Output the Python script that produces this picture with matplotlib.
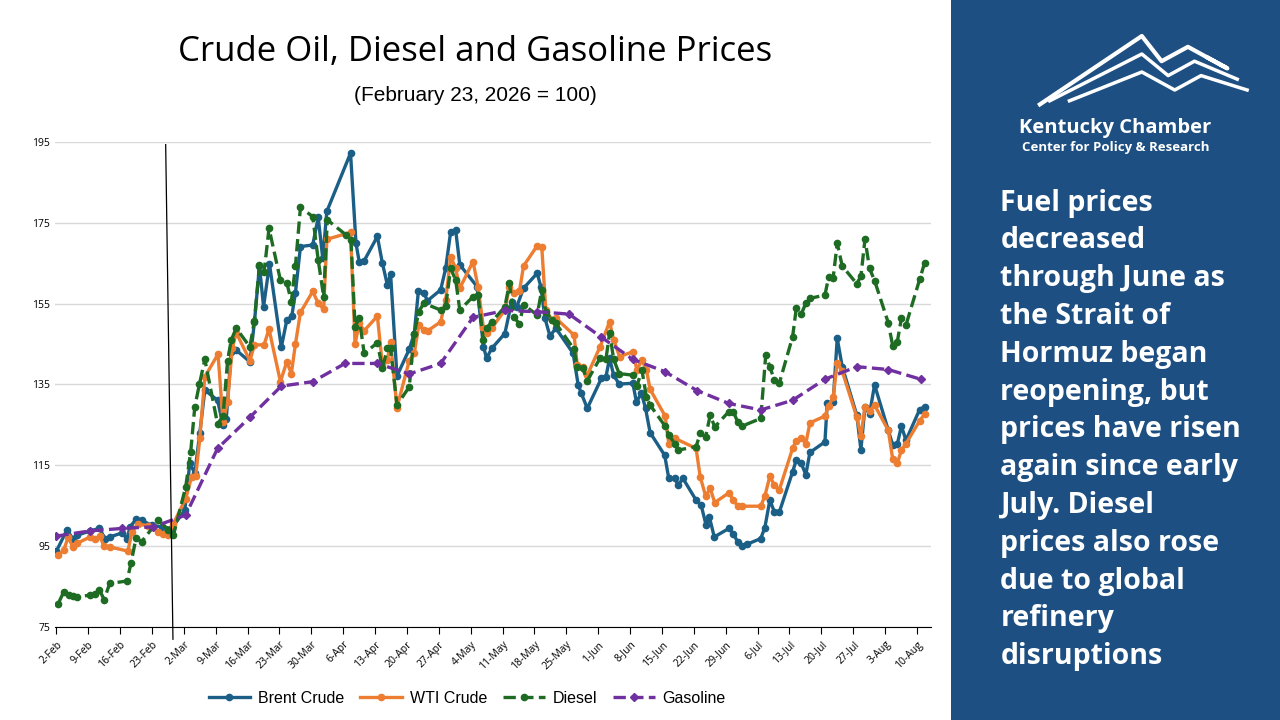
import matplotlib.pyplot as plt
import matplotlib.dates as mdates
from datetime import datetime, timedelta
import numpy as np

START = datetime(2026, 2, 2)

# days after 2-Feb, index value (February 23, 2026 = 100)
BRENT = {
	"day": [0, 2.3, 3.6, 4.5, 7.4, 9.4, 10.7, 11.8, 14.4, 15.5, 16.2, 17.5, 18.7, 20.9, 23.1, 25.3, 28.2, 29.3, 30.4, 31.5,
		32.6, 35.4, 36.6, 37.3, 38.4, 39.5, 42.5, 43.5, 44.6, 45.5, 46.8, 49.4, 50.6, 51.7, 52.5, 53.6, 56.3, 57.5, 58.5, 59.4,
		64.6, 65.8, 66.5, 67.6, 70.5, 71.6, 72.7, 73.4, 74.8, 77.5, 78.6, 79.5, 80.7, 81.5, 84.4, 85.5, 86.6, 87.7, 88.6, 92.4,
		93.8, 94.5, 95.6, 98.5, 100, 101.1, 102.6, 105.6, 106.4, 107.3, 108.4, 109.7, 113.5, 114.6, 115.3, 116.6, 119.7, 120.7,
		121.5, 122.4, 123.6, 126.6, 127.4, 128.5, 129.4, 130.4, 133.6, 134.5, 135.8, 136.6, 137.6, 140.5, 141.6, 142.7, 143.4,
		144.5, 147.7, 148.7, 149.6, 150.6, 151.7, 154.7, 155.6, 156.7, 157.7, 158.8, 161.7, 162.5, 163.6, 164.6, 165.5, 168.8,
		169.3, 170.6, 171.5, 172.6, 175.8, 176.7, 177.6, 178.6, 179.7, 182.7, 183.7, 184.7, 185.6, 186.6, 189.6, 190.7],
	"value": [93.8, 99.0, 96.9, 97.7, 98.8, 99.4, 96.9, 97.3, 98.3, 96.9, 99.8, 101.7, 101.4, 100.2, 99.8, 99.4, 103.9, 115.6, 113.0, 123.1,
		133.6, 131.1, 124.9, 126.4, 143.1, 143.5, 140.6, 150.5, 164.3, 154.2, 164.8, 144.2, 150.9, 151.9, 157.7, 169.1, 169.5, 176.3, 166.2, 177.8,
		192.2, 169.9, 165.4, 165.6, 171.6, 165.0, 159.6, 162.3, 137.1, 143.7, 147.6, 158.0, 157.7, 155.7, 158.4, 163.7, 172.8, 173.1, 164.6, 159.2,
		144.3, 141.5, 143.9, 147.6, 155.5, 154.2, 158.8, 162.5, 159.2, 151.4, 147.0, 148.9, 142.7, 134.9, 132.8, 129.1, 136.5, 136.9,
		141.5, 137.3, 135.1, 135.3, 130.7, 132.8, 129.1, 123.1, 117.5, 111.8, 111.8, 110.1, 111.8, 106.4, 105.2, 100.2, 102.3,
		97.3, 99.4, 98.1, 96.1, 95.0, 95.5, 96.9, 99.6, 106.4, 103.5, 103.5, 113.4, 116.3, 115.5, 112.7, 118.2, 120.8,
		130.3, 130.7, 146.4, 139.4, 127.4, 118.9, 129.5, 127.7, 134.9, 123.7, 120.0, 120.3, 124.7, 121.2, 128.8, 129.5],
}

WTI = {
	"day": [0.4, 1.6, 2.6, 3.6, 4.5, 7.4, 8.5, 9.6, 10.4, 11.8, 15.7, 16.6, 17.9, 20.2, 22.4, 23.5, 24.6, 25.7, 28.4, 29.7,
		30.6, 31.5, 32.6, 35.5, 36.6, 37.6, 38.6, 39.5, 42.5, 43.5, 45.6, 46.7, 49.2, 50.6, 51.6, 52.5, 53.6, 56.3, 57.5, 58.7,
		59.4, 64.6, 65.6, 66.5, 67.6, 70.5, 71.6, 72.7, 73.4, 74.8, 77.5, 78.6, 79.6, 80.7, 81.6, 84.4, 85.5, 86.6, 87.7, 88.6,
		91.5, 92.6, 93.8, 94.5, 95.6, 98.5, 99.5, 100.5, 101.7, 102.6, 105.6, 106.6, 107.5, 108.8, 109.7, 113.7, 114.4, 115.6,
		116.6, 119.4, 121.5, 122.4, 123.7, 126.6, 127.5, 128.6, 129.6, 130.4, 133.7, 134.5, 135.8, 140.5, 141.4, 142.6, 143.6,
		144.6, 147.7, 148.7, 149.6, 150.6, 154.7, 155.6, 156.7, 157.7, 158.8, 161.7, 162.5, 163.6, 164.6, 165.5, 168.8, 169.6,
		170.6, 171.5, 172.6, 175.8, 176.7, 177.6, 178.6, 179.7, 182.7, 183.7, 184.7, 185.6, 186.6, 189.6, 190.7],
	"value": [92.8, 94.0, 97.3, 94.8, 95.7, 97.3, 96.7, 97.5, 95.0, 94.8, 93.8, 98.6, 100.5, 100.0, 98.6, 98.0, 97.7, 100.6, 106.8, 112.2,
		112.3, 121.7, 136.9, 142.5, 125.8, 130.7, 143.9, 147.8, 140.9, 144.8, 144.8, 148.7, 135.7, 140.6, 137.7, 145.0, 152.8, 158.0, 155.1, 153.6,
		170.9, 172.6, 145.0, 150.1, 148.3, 151.9, 139.8, 141.0, 145.6, 129.3, 140.9, 142.7, 149.7, 148.5, 148.3, 150.5, 155.9, 166.6, 163.7, 158.8,
		165.4, 159.2, 148.9, 147.8, 148.9, 153.4, 159.2, 157.5, 158.0, 164.3, 169.3, 169.1, 153.4, 151.0, 151.4, 147.2, 139.8, 139.2,
		137.3, 144.3, 150.5, 146.0, 141.9, 143.1, 138.6, 141.0, 138.6, 133.8, 127.2, 120.4, 121.7, 119.2, 112.2, 107.4, 109.3,
		105.8, 108.2, 106.4, 105.0, 104.9, 104.9, 107.4, 112.3, 110.1, 109.0, 119.2, 121.1, 121.8, 120.4, 125.5, 127.2, 129.7,
		131.8, 140.4, 138.3, 126.9, 122.2, 129.5, 128.5, 129.9, 123.7, 116.5, 115.5, 118.8, 120.4, 126.0, 127.7],
}

DIESEL = {
	"day": [0.4, 1.6, 2.7, 3.6, 4.5, 7.4, 8.5, 9.4, 10.5, 11.7, 15.5, 16.4, 17.5, 18.7, 22.4, 24.6, 25.7, 28.4, 29.5, 30.4,
		31.4, 32.6, 35.4, 36.6, 37.6, 38.4, 39.5, 42.5, 43.5, 44.6, 45.6, 46.7, 49.2, 50.6, 51.6, 52.5, 53.6, 56.3, 57.5, 58.7,
		59.5, 63.6, 64.7, 65.6, 66.5, 67.6, 70.5, 71.6, 72.7, 73.4, 74.8, 77.5, 78.6, 79.6, 80.7, 84.4, 85.5, 86.6, 87.7, 88.6,
		91.5, 92.6, 93.8, 94.5, 95.6, 98.5, 99.5, 100.5, 101.7, 102.6, 105.6, 106.6, 107.5, 108.8, 109.7, 113.7, 114.4, 115.6,
		116.6, 119.4, 120.7, 121.5, 122.4, 123.6, 126.6, 127.5, 128.6, 129.6, 130.4, 133.7, 134.5, 135.8, 136.6, 140.5, 141.4,
		142.6, 143.6, 144.6, 147.7, 148.7, 149.6, 150.6, 154.7, 155.8, 156.7, 157.7, 158.8, 161.7, 162.5, 163.6, 164.6, 165.5,
		168.8, 169.6, 170.6, 171.5, 172.6, 175.8, 176.7, 177.6, 178.6, 179.7, 182.7, 183.7, 184.7, 185.6, 186.6, 189.6, 190.7],
	"value": [80.8, 83.7, 82.9, 82.6, 82.5, 82.9, 83.1, 84.3, 81.8, 85.8, 86.4, 90.9, 97.1, 96.1, 101.4, 99.1, 97.7, 109.7, 118.4, 129.5,
		135.0, 141.2, 125.2, 127.2, 140.9, 146.0, 148.9, 144.3, 150.8, 164.6, 162.7, 173.6, 160.8, 160.2, 155.5, 164.3, 178.8, 176.5, 165.8, 156.7,
		175.7, 172.0, 170.7, 149.3, 151.4, 142.7, 145.3, 139.0, 143.9, 143.9, 129.9, 134.4, 147.6, 153.0, 155.1, 153.4, 154.4, 163.7, 160.8, 153.4,
		156.7, 157.1, 146.0, 148.9, 150.5, 154.2, 160.0, 151.6, 150.0, 154.7, 152.2, 158.4, 153.0, 151.0, 150.1, 143.7, 139.4, 139.0,
		135.9, 141.5, 141.2, 147.8, 141.2, 137.7, 137.3, 134.6, 138.6, 131.8, 129.9, 124.7, 122.5, 120.4, 118.8, 119.6, 122.9,
		122.1, 127.4, 124.5, 128.3, 128.3, 125.8, 124.7, 126.6, 142.3, 139.4, 136.1, 135.4, 146.8, 153.8, 152.4, 155.1, 156.3,
		157.1, 161.5, 161.3, 169.9, 164.3, 159.9, 161.8, 170.9, 163.7, 160.7, 150.3, 144.5, 145.6, 151.4, 149.7, 161.0, 165.1],
}

GASOLINE = {
	"day": [0, 7.4, 14.4, 21.3, 28.4, 35.4, 42.5, 49.4, 56.3, 63.4, 70.5, 77.5, 84.4, 91.5, 98.5, 105.6, 112.6, 119.7,
		126.6, 133.6, 140.7, 147.7, 154.7, 161.7, 168.8, 175.8, 182.7, 189.8],
	"value": [97.5, 98.8, 99.4, 99.8, 102.7, 119.2, 126.9, 134.6, 135.7, 140.2, 140.2, 137.6, 140.2, 151.6, 153.3, 153.0, 152.4, 146.7,
		141.2, 138.2, 133.5, 130.3, 128.7, 131.1, 136.3, 139.4, 138.7, 136.3],
}

MESSAGE = ("Fuel prices\ndecreased\nthrough June as\nthe Strait of\nHormuz began\nreopening, but\nprices have risen\n"
	"again since early\nJuly. Diesel\nprices also rose\ndue to global\nrefinery\ndisruptions")

def to_dates(days):
	"""
	Convert day offsets from 2-Feb into datetimes
	"""

	return [START + timedelta(days=d) for d in days]

def create_graph():
	"""
	Draw the index chart and the side panel
	"""

	plt.rcParams['font.family'] = ['Open Sans', 'DejaVu Sans']
	fig = plt.figure(figsize=(12.8, 7.2), dpi=100)
	ax = fig.add_axes([0.043, 0.129, 0.684, 0.674])

	ax.plot(to_dates(BRENT["day"]), BRENT["value"], '-o', color='#1b5f86', lw=2.4, ms=4.5, label='Brent Crude')
	ax.plot(to_dates(WTI["day"]), WTI["value"], '-o', color='#ed7d31', lw=2.4, ms=4.5, label='WTI Crude')
	ax.plot(to_dates(DIESEL["day"]), DIESEL["value"], '--o', color='#1e6b23', lw=2.4, ms=4.5, label='Diesel')
	ax.plot(to_dates(GASOLINE["day"]), GASOLINE["value"], '--D', color='#7030a0', lw=2.4, ms=4.5, label='Gasoline')
	ax.plot(to_dates([24.0, 25.6]), [194.3, 72.0], color='black', lw=0.9, clip_on=False)  # marker line

	ax.set_ylim(75, 195)
	ax.set_yticks(np.arange(75, 196, 20))
	ax.set_xlim(START - timedelta(days=0.3), START + timedelta(days=192))
	ax.set_xticks(to_dates(range(0, 190, 7)))
	ax.xaxis.set_major_formatter(mdates.DateFormatter('%-d-%b'))
	ax.tick_params(axis='x', labelsize=7.5, rotation=45, length=5)
	ax.tick_params(axis='y', labelsize=7.5, length=0)
	for label in ax.get_xticklabels():
		label.set_ha('right')
		label.set_rotation_mode('anchor')
	ax.grid(axis='y', color='#d9d9d9', lw=1)
	ax.set_axisbelow(True)
	for side in ['top', 'right', 'left']:
		ax.spines[side].set_visible(False)
	ax.spines['bottom'].set_color('black')

	fig.text(0.371, 0.928, 'Crude Oil, Diesel and Gasoline Prices', ha='center', va='center', fontsize=25)
	fig.text(0.371, 0.868, '(February 23, 2026 = 100)', ha='center', va='center', fontsize=15,
		family=['Liberation Sans', 'DejaVu Sans'])
	fig.legend(loc='center', bbox_to_anchor=(0.365, 0.03), ncol=4, frameon=False,
		handlelength=2.6, columnspacing=1.0, handletextpad=0.5, prop={'family': ['Liberation Sans'], 'size': 11.5})

	panel = fig.add_axes([0.743, 0, 0.257, 1])
	panel.set_facecolor('#1d4f82')
	panel.set_xlim(0, 1)
	panel.set_ylim(0, 1)
	panel.set_xticks([])
	panel.set_yticks([])
	for side in panel.spines.values():
		side.set_visible(False)
	panel.plot([0.27, 0.58, 0.64, 0.72, 0.84, 0.78], [0.855, 0.95, 0.915, 0.935, 0.905, 0.92], color='white', lw=3)  # logo
	panel.plot([0.30, 0.58, 0.66, 0.74, 0.87], [0.86, 0.925, 0.895, 0.915, 0.89], color='white', lw=2.5)
	panel.plot([0.36, 0.58, 0.68, 0.76, 0.90], [0.86, 0.90, 0.875, 0.895, 0.875], color='white', lw=2.5)
	panel.text(0.5, 0.822, 'Kentucky Chamber', color='white', ha='center', va='center', fontsize=14.5, fontweight='bold')
	panel.text(0.5, 0.795, 'Center for Policy & Research', color='white', ha='center', va='center', fontsize=9.5, fontweight='bold')
	panel.text(0.15, 0.738, MESSAGE, color='white', ha='left', va='top', fontsize=20.5, fontweight='bold', linespacing=1.4)

	fig.savefig('out.png', dpi=100)

def main():
	create_graph()

if __name__ == '__main__':
	main()
